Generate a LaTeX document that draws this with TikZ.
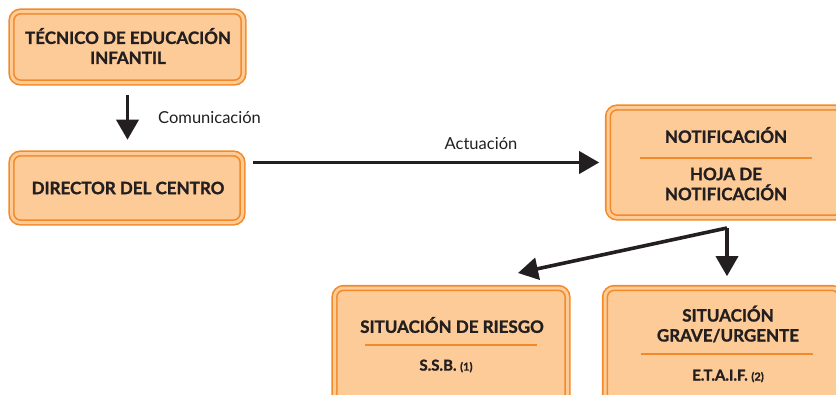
\documentclass[tikz,border=0pt]{standalone}
\usepackage{fontspec}
\setmainfont{Lato}[BoldFeatures={FakeBold=1.3}]
\usetikzlibrary{arrows.meta,calc}
\definecolor{boxfill}{HTML}{FDCB97}
\definecolor{boxline}{HTML}{F28A2A}
\definecolor{arrowc}{HTML}{231F20}
\tikzset{
  box/.style={draw=boxline, line width=1.6pt, double=boxfill, double distance=3pt,
    fill=boxfill, rounded corners=9pt, inner sep=0pt},
  title/.style={font=\bfseries\fontsize{17}{20}\selectfont, text=arrowc, align=center, inner sep=0pt},
  subtitle/.style={font=\bfseries\fontsize{15}{20}\selectfont, text=arrowc, align=center, inner sep=0pt},
  lbl/.style={font=\fontsize{16.5}{18}\selectfont, text=arrowc, inner sep=0pt},
  divider/.style={draw=boxline, line width=1.3pt},
  conn/.style={draw=arrowc, line width=3.6pt, -{Triangle[width=22pt,length=20pt]}},
}
\begin{document}
\begin{tikzpicture}[x=1pt,y=-1pt]
\useasboundingbox (0,0) rectangle (836,394);
\clip (0,0) rectangle (836,394);
% boxes
\node[box, minimum width=232pt, minimum height=71pt] (tec) at (127.5,47) {};
\node[title] (tect) at (128,46) {TÉCNICO DE EDUCACIÓN\\INFANTIL};
\node[box, minimum width=231pt, minimum height=69pt] (dir) at (127,188) {};
\node[title] (dirt) at (128,188) {DIRECTOR DEL CENTRO};
\node[box, minimum width=236pt, minimum height=110pt] (not) at (726,162.5) {};
\node[title] (nott1) at (726,135) {NOTIFICACIÓN};
\node[title] (nott2) at (726,184) {HOJA DE\\NOTIFICACIÓN};
\draw[divider] (640,158) -- (812,158);
\node[box, minimum width=233pt, minimum height=124pt] (rie) at (451,350) {};
\node[title] (riet1) at (452,325) {SITUACIÓN DE RIESGO};
\node[subtitle] (riet2) at (446,366) {S.S.B. {\fontsize{11}{12}\selectfont(1)}};
\draw[divider] (365,345) -- (537,345);
\node[box, minimum width=236pt, minimum height=124pt] (gra) at (723,350) {};
\node[title] (grat1) at (728,324) {SITUACIÓN\\GRAVE/URGENTE};
\node[subtitle] (grat2) at (728,376) {E.T.A.I.F. {\fontsize{11}{12}\selectfont(2)}};
\draw[divider] (641,354) -- (813,354);
% connectors
\draw[conn, shorten <=12pt, shorten >=13pt] (tec.south) -- (tec.south |- dir.north);
\node[lbl, anchor=west] (com) at (158,118) {Comunicación};
\draw[conn, shorten <=10pt, shorten >=8pt] (not.west -| dir.east) -- (not.west);
\node[lbl] (act) at (481,144) {Actuación};
\coordinate (split) at (727,228);
\coordinate (rtip) at (518,273);
\draw[conn] (split) -- (rtip);
\draw[conn, shorten >=11pt] (split) -- (split |- gra.north);
\end{tikzpicture}
\end{document}
